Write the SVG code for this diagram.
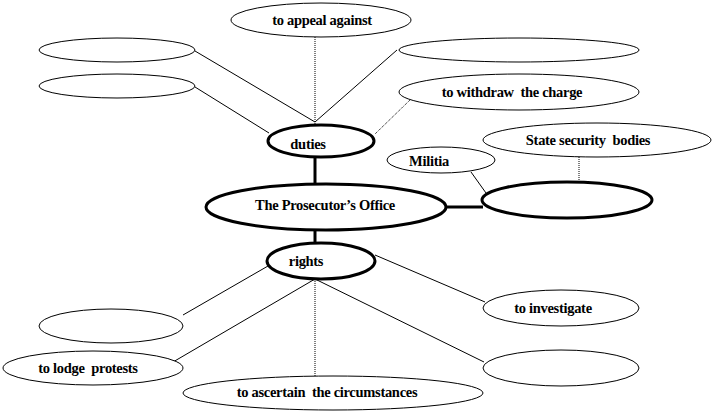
<svg xmlns="http://www.w3.org/2000/svg" width="714" height="413" viewBox="0 0 714 413">
<style>
.n{fill:#fff;stroke:#000;stroke-width:1}
.k{fill:#fff;stroke:#000;stroke-width:3}
.t{font-family:"Liberation Serif","Times New Roman",serif;font-weight:bold;font-size:14.5px;text-anchor:middle;letter-spacing:-0.3px;white-space:pre}
.l{stroke:#000;stroke-width:1;fill:none}
.d{stroke:#000;stroke-width:1;fill:none;stroke-dasharray:1 1}
.h{stroke:#000;stroke-width:3;fill:none}
</style>
<rect width="714" height="413" fill="#fff"/>
<g id="connectors">
<line class="d" x1="315" y1="37" x2="315" y2="124"/>
<line class="l" x1="195" y1="51" x2="315" y2="122"/>
<line class="l" x1="397" y1="50" x2="315" y2="122"/>
<line class="l" x1="195" y1="87" x2="269" y2="133"/>
<line class="d" x1="410" y1="100" x2="375" y2="134"/>
<line class="h" x1="315" y1="157" x2="315" y2="184"/>
<line class="h" x1="315" y1="230" x2="315" y2="244"/>
<line class="h" x1="446" y1="207" x2="483" y2="207"/>
<line class="l" x1="471" y1="172" x2="486" y2="193"/>
<line class="d" x1="579" y1="157" x2="579" y2="182"/>
<line class="l" x1="268" y1="266" x2="183" y2="315"/>
<line class="l" x1="315" y1="279" x2="173" y2="362"/>
<line class="d" x1="315" y1="279" x2="315" y2="376"/>
<line class="l" x1="375" y1="255" x2="485" y2="302"/>
<line class="l" x1="315" y1="279" x2="484" y2="362"/>
</g>
<g id="appeal"><ellipse class="n" cx="321" cy="20" rx="90" ry="17"/><text class="t" x="322" y="25">to appeal against</text></g>
<g id="empty-l1"><ellipse class="n" cx="117" cy="50" rx="78" ry="12"/></g>
<g id="empty-l2"><ellipse class="n" cx="117" cy="86" rx="78" ry="12"/></g>
<g id="empty-r1"><ellipse class="n" cx="519" cy="50" rx="120" ry="12"/></g>
<g id="withdraw"><ellipse class="n" cx="519" cy="92" rx="120" ry="18"/><text class="t" x="512" y="97">to withdraw  the charge</text></g>
<g id="duties"><ellipse class="k" cx="321" cy="141" rx="53" ry="16"/><text class="t" x="308" y="149">duties</text></g>
<g id="state"><ellipse class="n" cx="597" cy="140" rx="114" ry="17"/><text class="t" x="588" y="145">State security  bodies</text></g>
<g id="militia"><ellipse class="n" cx="441" cy="160" rx="54" ry="13"/><text class="t" x="429" y="166">Militia</text></g>
<g id="office"><ellipse class="k" cx="326" cy="207" rx="120" ry="23"/><text class="t" x="325" y="210">The Prosecutor’s Office</text></g>
<g id="empty-r2"><ellipse class="k" cx="567" cy="200" rx="85" ry="18"/></g>
<g id="rights"><ellipse class="k" cx="321" cy="261" rx="54" ry="18"/><text class="t" x="306" y="266">rights</text></g>
<g id="empty-l3"><ellipse class="n" cx="111" cy="326" rx="72" ry="17"/></g>
<g id="investigate"><ellipse class="n" cx="561" cy="308" rx="78" ry="18"/><text class="t" x="553" y="313">to investigate</text></g>
<g id="lodge"><ellipse class="n" cx="93" cy="368" rx="90" ry="17"/><text class="t" x="88" y="373">to lodge  protests</text></g>
<g id="empty-r3"><ellipse class="n" cx="561" cy="368" rx="78" ry="18"/></g>
<g id="ascertain"><ellipse class="n" cx="333" cy="393" rx="150" ry="17"/><text class="t" x="327" y="397">to ascertain  the circumstances</text></g>
</svg>
